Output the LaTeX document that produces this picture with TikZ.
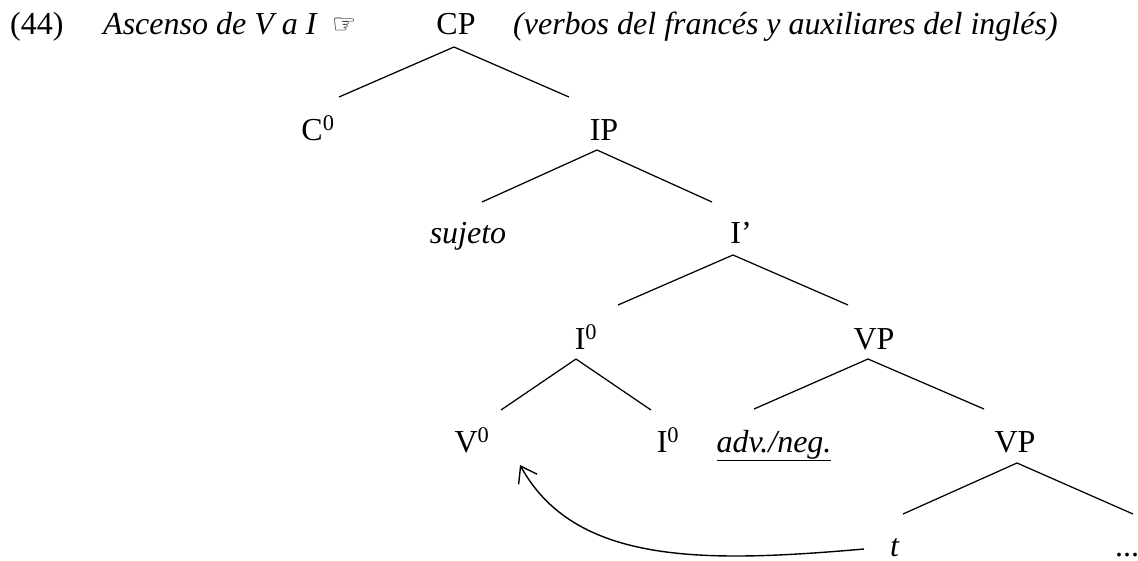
\documentclass[tikz,border=0pt]{standalone}
\usepackage{fontspec}
\setmainfont{Liberation Serif}
\newfontfamily\symfont{DejaVu Sans}
\usetikzlibrary{arrows.meta}
\begin{document}
\begin{tikzpicture}[x=1pt,y=1pt,
  lbl/.style={anchor=base,inner sep=0pt,font=\fontsize{32}{38}\selectfont},
  branch/.style={line width=1.25pt},
  mv/.style={line width=1.4pt,-{Straight Barb[length=15pt,width=21pt,line width=1.4pt]}}]
\useasboundingbox (0,0) rectangle (1138,-560);
% title line
\node[lbl,anchor=base west] (num) at (10,-34) {(44)};
\node[lbl,anchor=base west] (title) at (103,-34) {\textit{Ascenso de V a I}};
\node[anchor=base west,inner sep=0pt,font=\symfont\fontsize{27}{30}\selectfont] (hand) at (332,-33) {☞};
\node[lbl] (CP) at (456,-34) {CP};
\node[lbl,anchor=base west] (note) at (513,-34) {\textit{(verbos del francés y auxiliares del inglés)}};
% row 1
\node[lbl] (C0) at (318,-140) {C\textsuperscript{0}};
\node[lbl] (IP) at (604,-140) {IP};
% row 2
\node[lbl] (suj) at (468,-243) {\textit{sujeto}};
\node[lbl] (Ibar) at (741,-243) {I’};
% row 3
\node[lbl] (I0a) at (586,-349) {I\textsuperscript{0}};
\node[lbl] (VPa) at (874,-349) {VP};
% row 4
\node[lbl] (V0) at (472,-452) {V\textsuperscript{0}};
\node[lbl] (I0b) at (668,-452) {I\textsuperscript{0}};
\node[lbl] (adv) at (774,-452) {\underline{\textit{adv./neg.}}};
\node[lbl] (VPb) at (1015,-452) {VP};
% row 5
\node[lbl] (t) at (895,-556) {\textit{t}};
\node[lbl] (dots) at (1127,-556) {...};
% branches (offsets relative to base anchors)
\draw[branch] ([shift={(-2,-13)}]CP.base) -- ([shift={(21,43)}]C0.base);
\draw[branch] ([shift={(-2,-13)}]CP.base) -- ([shift={(-35,43)}]IP.base);
\draw[branch] ([shift={(-7,-10)}]IP.base) -- ([shift={(14,41)}]suj.base);
\draw[branch] ([shift={(-7,-10)}]IP.base) -- ([shift={(-29,41)}]Ibar.base);
\draw[branch] ([shift={(-8,-12)}]Ibar.base) -- ([shift={(32,44)}]I0a.base);
\draw[branch] ([shift={(-8,-12)}]Ibar.base) -- ([shift={(-26,44)}]VPa.base);
\draw[branch] ([shift={(-10,-10)}]I0a.base) -- ([shift={(29,42)}]V0.base);
\draw[branch] ([shift={(-10,-10)}]I0a.base) -- ([shift={(-17,42)}]I0b.base);
\draw[branch] ([shift={(-6,-10)}]VPa.base) -- ([shift={(-20,43)}]adv.base);
\draw[branch] ([shift={(-6,-10)}]VPa.base) -- ([shift={(-31,43)}]VPb.base);
\draw[branch] ([shift={(2,-11)}]VPb.base) -- ([shift={(8,42)}]t.base);
\draw[branch] ([shift={(2,-11)}]VPb.base) -- ([shift={(6,42)}]dots.base);
% movement arrow
\draw[mv] ([shift={(-31,7)}]t.base) .. controls +(-160,-14) and +(55,-100) .. ([shift={(48,-13)}]V0.base);
\end{tikzpicture}
\end{document}
